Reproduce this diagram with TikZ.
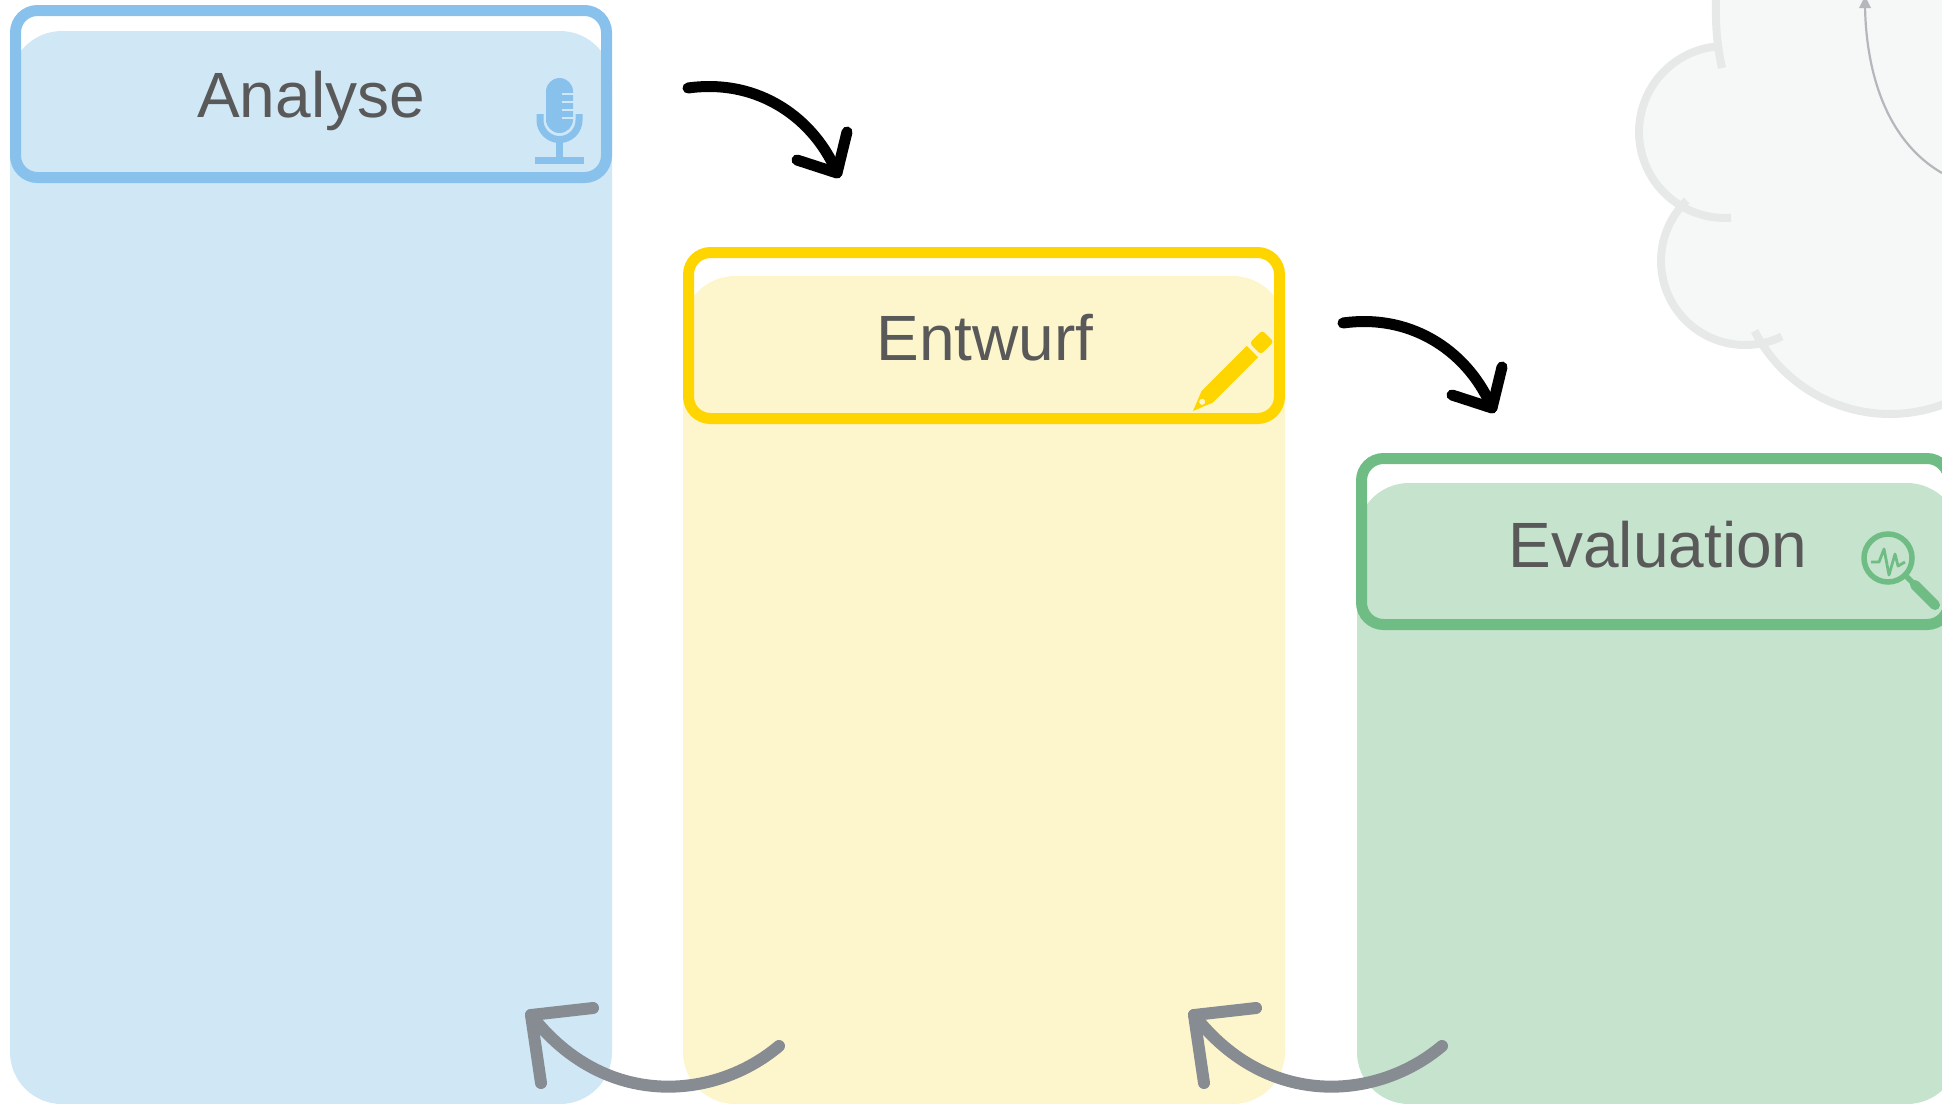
\documentclass[tikz,border=0pt]{standalone}
\usepackage{fontspec}
\setmainfont{Liberation Sans}
\definecolor{blueline}{HTML}{88C2EC}
\definecolor{bluefill}{HTML}{D0E7F6}
\definecolor{yellowline}{HTML}{FFD500}
\definecolor{yellowfill}{HTML}{FDF6CC}
\definecolor{greenline}{HTML}{6FBD84}
\definecolor{greenfill}{HTML}{C5E3CD}
\definecolor{labelgray}{HTML}{595959}
\definecolor{arrowgray}{HTML}{878B92}
\definecolor{cloudfill}{HTML}{F6F7F7}
\definecolor{cloudline}{HTML}{E7E8E8}
\definecolor{cloudarrow}{HTML}{B4B7BB}
\begin{document}
\begin{tikzpicture}[x=1pt,y=-1pt,
  phaselabel/.style={anchor=base, inner sep=0pt, text=labelgray,
    font=\fontsize{64}{70}\selectfont},
  colfill/.style={rounded corners=52pt},
  headframe/.style={line width=11pt, rounded corners=22pt},
  fwdarrow/.style={line width=11pt, line cap=round, line join=round, black},
  backarrow/.style={line width=12pt, line cap=round, line join=round, arrowgray},
  cloudedge/.style={line width=8pt, cloudline},
]
\useasboundingbox (0,0) rectangle (1942,1103);
\clip (0,0) rectangle (1942,1103);

% ---- cloud in the upper right corner ----
\fill[cloudfill] (1725,132) circle (86);
\fill[cloudfill] (1745,261) circle (84);
\fill[cloudfill] (1890,262) circle (152);
\fill[cloudfill] (1999,10) circle (283);
\fill[cloudfill] (1725,132) -- (1745,261) -- (1890,262) -- (1942,262)
  -- (1942,0) -- (1730,0) -- cycle;
\draw[cloudedge] (1716,-5) .. controls (1715,30) and (1718,50) .. (1722,68);
\draw[cloudedge] plot[domain=86:268, samples=60]
  ({1725+86*cos(\x)},{132+86*sin(\x)});
\draw[cloudedge] plot[domain=64:226, samples=60]
  ({1745+84*cos(\x)},{261+84*sin(\x)});
\draw[cloudedge] plot[domain=60:153, samples=60]
  ({1890+152*cos(\x)},{262+152*sin(\x)});
\coordinate (cloudfoot) at (1942,173);
\coordinate (cloudtop) at (1865,6);
\draw[cloudarrow, line width=2.2pt] (cloudfoot) .. controls (1885,140) and (1866,70) .. (cloudtop);
\fill[cloudarrow] (1859,8) -- (1871,8) -- (1865,-4) -- cycle;

% ---- phase columns ----
\fill[bluefill, colfill] (10,31) rectangle (612,1104);
\fill[yellowfill, colfill] (683,276) rectangle (1285,1104);
\fill[greenfill, colfill] (1357,483) rectangle (1959,1104);

% ---- header frames ----
\draw[blueline, headframe] (15.5,10.5) rectangle (606.5,177.5);
\draw[yellowline, headframe] (688.5,252.5) rectangle (1279.5,418.5);
\draw[greenline, headframe] (1361.5,458.5) rectangle (1949,624.5);

% ---- labels ----
\node[phaselabel] (analyse) at (311,117.5) {Analyse};
\node[phaselabel] (entwurf) at (985,360) {Entwurf};
\node[phaselabel] (evaluation) at (1658,567) {Evaluation};

% ---- microphone icon ----
\fill[blueline, rounded corners=13.5pt] (546,78) rectangle (573,133);
\foreach \yy in {94,102,110,118}
  \draw[bluefill, line width=2.4pt] (562,\yy) -- (575,\yy);
\draw[blueline, line width=7pt] (540,114) -- (540,120)
  plot[domain=180:0, samples=40] ({559.5+19.5*cos(\x)},{120+19.5*sin(\x)})
  -- (579,114);
\draw[blueline, line width=6.5pt] (559.5,140) -- (559.5,159);
\fill[blueline] (535,157) rectangle (584,164);

% ---- pencil icon ----
\begin{scope}[shift={(1193,411)}, rotate=45]
  \fill[yellowline] (0,0) -- (20,-8) -- (84,-8) -- (84,8) -- (20,8) -- cycle;
  \fill[yellowline, rounded corners=3pt] (88,-8) rectangle (106,8);
  \fill[yellowfill] (13,0) circle (3);
\end{scope}

% ---- magnifier icon ----
\draw[greenline, line width=5.5pt] (1888,558) circle (24);
\draw[greenline, line width=2.8pt, line join=round] (1871,562) -- (1879,562)
  -- (1884,549) -- (1889,575) -- (1895,554) -- (1898,566) -- (1905,562);
\draw[greenline, line width=5.5pt] (1904,574) -- (1914,584);
\draw[greenline, line width=10pt, line cap=round] (1915,585) -- (1935,605);

% ---- forward arrows ----
\coordinate (f1s) at (688,88);
\coordinate (f1t) at (837,173);
\coordinate (f1l) at (797,160);
\coordinate (f1r) at (847,132);
\draw[fwdarrow] (f1s) .. controls (760,78) and (815,120) .. (f1t);
\draw[fwdarrow] (f1l) -- (f1t) -- (f1r);
\begin{scope}[shift={(655,235)}]
  \coordinate (f2s) at (688,88);
  \coordinate (f2t) at (837,173);
  \coordinate (f2l) at (797,160);
  \coordinate (f2r) at (847,132);
  \draw[fwdarrow] (f2s) .. controls (760,78) and (815,120) .. (f2t);
  \draw[fwdarrow] (f2l) -- (f2t) -- (f2r);
\end{scope}

% ---- backward arrows ----
\coordinate (b1s) at (779,1046);
\coordinate (b1t) at (531,1015);
\coordinate (b1l) at (593,1008);
\coordinate (b1r) at (541,1083);
\draw[backarrow] (b1s) .. controls (715,1100) and (605,1110) .. (b1t);
\draw[backarrow] (b1l) -- (b1t) -- (b1r);
\begin{scope}[shift={(663,0)}]
  \coordinate (b2s) at (779,1046);
  \coordinate (b2t) at (531,1015);
  \coordinate (b2l) at (593,1008);
  \coordinate (b2r) at (541,1083);
  \draw[backarrow] (b2s) .. controls (715,1100) and (605,1110) .. (b2t);
  \draw[backarrow] (b2l) -- (b2t) -- (b2r);
\end{scope}
\end{tikzpicture}
\end{document}
